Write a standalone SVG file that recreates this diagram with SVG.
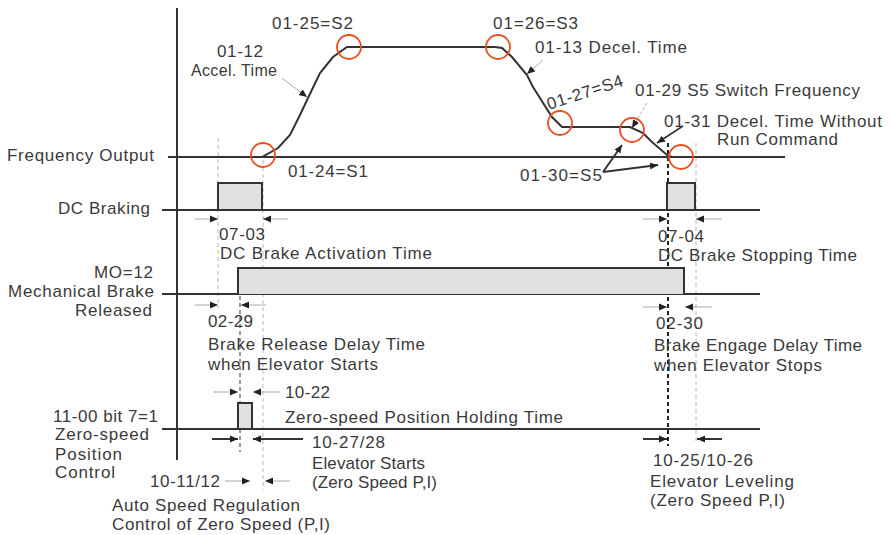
<svg xmlns="http://www.w3.org/2000/svg" width="890" height="535" viewBox="0 0 890 535">
<style>
text{font-family:"Liberation Sans",Arial,sans-serif;font-size:17px;fill:#3a3a3a}
.ax{stroke:#333;stroke-width:2;fill:none}
.box{fill:#e1e1e4;stroke:#333;stroke-width:2}
.dg{stroke:#b8b8b8;stroke-width:1;stroke-dasharray:4 3;fill:none}
.dk{stroke:#222;stroke-width:2;stroke-dasharray:4 3;fill:none}
.dm{stroke:#777;stroke-width:1.5;stroke-dasharray:4 3;fill:none}
.ring{fill:none;stroke:#e8501e;stroke-width:1.8}
.thin{stroke:#aaa;stroke-width:1;fill:none}
.thick{stroke:#333;stroke-width:2;fill:none}
</style>
<defs>
<marker id="ah" markerUnits="userSpaceOnUse" markerWidth="9" markerHeight="8" refX="8" refY="4" orient="auto"><path d="M0,0.5 L8,4 L0,7.5 z" fill="#222"/></marker>
</defs>

<g id="axis">
<line class="ax" x1="177" y1="8" x2="177" y2="460"/>
</g>

<g id="guides">
<line class="dg" x1="218" y1="138" x2="218" y2="308"/>
<line class="dg" x1="263" y1="160" x2="263" y2="490"/>
<line class="dm" x1="240" y1="296" x2="240" y2="452"/>
<line class="dk" x1="668" y1="143" x2="668" y2="446"/>
<line class="dg" x1="696" y1="143" x2="696" y2="444"/>
</g>

<g id="freq-output">
<line class="ax" x1="168" y1="157" x2="785" y2="157"/>
<path class="ax" d="M218,157 L262,157 L278,148 L290,135 L300,115 L308,98 L320,73 L333,57 L347,47 L495,47 L502,48 L512,57 L527,75 L533,87 L552,117 L562,127 L630,127 L643,133 L652,142 L667,155 L672,157"/>
<circle class="ring" cx="263" cy="155" r="12"/>
<circle class="ring" cx="349" cy="47" r="12"/>
<circle class="ring" cx="498" cy="47" r="12"/>
<circle class="ring" cx="560" cy="123" r="12"/>
<circle class="ring" cx="632" cy="130" r="12"/>
<circle class="ring" cx="681" cy="157" r="12"/>
<text x="7" y="161" textLength="147" lengthAdjust="spacing">Frequency Output</text>
</g>

<g id="dc-braking">
<line class="ax" x1="162" y1="210" x2="760" y2="210"/>
<rect class="box" x="218" y="183" width="44" height="27"/>
<rect class="box" x="667" y="183" width="28" height="27"/>
<text x="58" y="214" textLength="92" lengthAdjust="spacing">DC Braking</text>
</g>

<g id="mech-brake">
<line class="ax" x1="162" y1="294" x2="760" y2="294"/>
<path class="box" d="M238,294 L238,268 L684,268 L684,294"/>
<text x="94" y="278" textLength="59" lengthAdjust="spacing">MO=12</text>
<text x="8" y="297" textLength="146" lengthAdjust="spacing">Mechanical Brake</text>
<text x="75" y="316" textLength="77" lengthAdjust="spacing">Released</text>
</g>

<g id="zero-speed">
<line class="ax" x1="162" y1="429" x2="760" y2="429"/>
<rect class="box" x="238" y="403" width="14" height="26"/>
<text x="53" y="422" textLength="105" lengthAdjust="spacing">11-00 bit 7=1</text>
<text x="55" y="440" textLength="94" lengthAdjust="spacing">Zero-speed</text>
<text x="55" y="460" textLength="67" lengthAdjust="spacing">Position</text>
<text x="55" y="478" textLength="60" lengthAdjust="spacing">Control</text>
</g>

<g id="labels">
<text x="272" y="29" textLength="81" lengthAdjust="spacing">01-25=S2</text>
<text x="217" y="57" textLength="46" lengthAdjust="spacing">01-12</text>
<text x="191" y="76" style="font-size:16px" textLength="86" lengthAdjust="spacing">Accel. Time</text>
<text x="288" y="177" textLength="80" lengthAdjust="spacing">01-24=S1</text>
<text x="493" y="29" textLength="85" lengthAdjust="spacing">01=26=S3</text>
<text x="535" y="53" textLength="152" lengthAdjust="spacing">01-13 Decel. Time</text>
<text x="0" y="0" transform="translate(549,110) rotate(-18)" textLength="79" lengthAdjust="spacing">01-27=S4</text>
<text x="635" y="96" textLength="225" lengthAdjust="spacing">01-29 S5 Switch Frequency</text>
<text x="664" y="127" textLength="218" lengthAdjust="spacing">01-31 Decel. Time Without</text>
<text x="717" y="145" textLength="121" lengthAdjust="spacing">Run Command</text>
<text x="520" y="181" textLength="82" lengthAdjust="spacing">01-30=S5</text>
<text x="219" y="240" textLength="46" lengthAdjust="spacing">07-03</text>
<text x="220" y="259" textLength="212" lengthAdjust="spacing">DC Brake Activation Time</text>
<text x="658" y="242" textLength="46" lengthAdjust="spacing">07-04</text>
<text x="658" y="261" textLength="199" lengthAdjust="spacing">DC Brake Stopping Time</text>
<text x="208" y="327" textLength="45" lengthAdjust="spacing">02-29</text>
<text x="208" y="350" textLength="217" lengthAdjust="spacing">Brake Release Delay Time</text>
<text x="208" y="370" textLength="170" lengthAdjust="spacing">when Elevator Starts</text>
<text x="656" y="329" textLength="47" lengthAdjust="spacing">02-30</text>
<text x="654" y="351" textLength="208" lengthAdjust="spacing">Brake Engage Delay Time</text>
<text x="654" y="371" textLength="168" lengthAdjust="spacing">when Elevator Stops</text>
<text x="285" y="398" textLength="45" lengthAdjust="spacing">10-22</text>
<text x="285" y="423" textLength="278" lengthAdjust="spacing">Zero-speed Position Holding Time</text>
<text x="312" y="448" textLength="73" lengthAdjust="spacing">10-27/28</text>
<text x="312" y="469" textLength="113" lengthAdjust="spacing">Elevator Starts</text>
<text x="312" y="488" textLength="125" lengthAdjust="spacing">(Zero Speed P,I)</text>
<text x="150" y="487" textLength="70" lengthAdjust="spacing">10-11/12</text>
<text x="112" y="511" textLength="188" lengthAdjust="spacing">Auto Speed Regulation</text>
<text x="112" y="530" textLength="218" lengthAdjust="spacing">Control of Zero Speed (P,I)</text>
<text x="653" y="466" textLength="100" lengthAdjust="spacing">10-25/10-26</text>
<text x="650" y="487" textLength="144" lengthAdjust="spacing">Elevator Leveling</text>
<text x="650" y="506" textLength="135" lengthAdjust="spacing">(Zero Speed P,I)</text>
</g>

<g id="connectors">
<line class="thin" x1="282" y1="78" x2="307" y2="97" marker-end="url(#ah)"/>
<line class="thin" x1="543" y1="60" x2="527" y2="74" marker-end="url(#ah)"/>
<line class="thin" x1="647" y1="103" x2="632" y2="128" stroke-dasharray="3 2" marker-end="url(#ah)"/>
<line stroke="#333" stroke-width="1.5" x1="683" y1="126" x2="657" y2="143" marker-end="url(#ah)"/>
<line class="thick" x1="603" y1="172" x2="622" y2="145" marker-end="url(#ah)"/>
<line class="thick" x1="603" y1="172" x2="658" y2="165" marker-end="url(#ah)"/>
<line class="thin" x1="195" y1="219" x2="218" y2="219" marker-end="url(#ah)"/>
<line class="thin" x1="288" y1="219" x2="263" y2="219" marker-end="url(#ah)"/>
<line class="thin" x1="643" y1="219" x2="667" y2="219" marker-end="url(#ah)"/>
<line class="thin" x1="722" y1="219" x2="696" y2="219" marker-end="url(#ah)"/>
<line class="thin" x1="195" y1="305" x2="218" y2="305" marker-end="url(#ah)"/>
<line class="thin" x1="266" y1="305" x2="241" y2="305" marker-end="url(#ah)"/>
<line class="thin" x1="643" y1="307" x2="667" y2="307" marker-end="url(#ah)"/>
<line class="thin" x1="712" y1="307" x2="685" y2="307" marker-end="url(#ah)"/>
<line class="thin" x1="213" y1="392" x2="238" y2="392" marker-end="url(#ah)"/>
<line class="thin" x1="280" y1="392" x2="253" y2="392" marker-end="url(#ah)"/>
<line class="thick" x1="212" y1="439" x2="238" y2="439" marker-end="url(#ah)"/>
<line class="thick" x1="303" y1="439" x2="253" y2="439" marker-end="url(#ah)"/>
<line class="thick" x1="643" y1="439" x2="667" y2="439" marker-end="url(#ah)"/>
<line class="thick" x1="722" y1="439" x2="697" y2="439" marker-end="url(#ah)"/>
<line class="thin" x1="225" y1="481" x2="250" y2="481" marker-end="url(#ah)"/>
<line class="thin" x1="290" y1="481" x2="265" y2="481" marker-end="url(#ah)"/>
</g>
</svg>
